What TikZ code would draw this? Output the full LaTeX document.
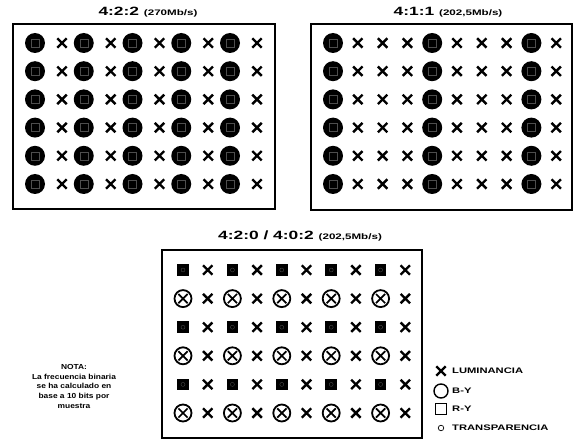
\documentclass[tikz,border=0pt]{standalone}
\usepackage{fontspec}
\setmainfont{Liberation Sans}
\usetikzlibrary{shapes.misc}
\newcommand\ttltext[2]{\scalebox{1.45}[1]{\fontsize{12}{12}\selectfont\bfseries #1 \fontsize{8}{8}\selectfont #2}}
\newcommand\legtext[1]{\scalebox{1.4}[1]{\fontsize{8}{8}\selectfont\bfseries #1}}
\begin{document}
\begin{tikzpicture}[x=1pt,y=-1pt,
 xmark/.style={cross out,draw,line width=2.4pt,minimum size=7pt,inner sep=0pt},
 innerx/.style={cross out,draw,line width=1.7pt,minimum size=7.5pt,inner sep=0pt},
 fulldot/.style={circle,fill=black,minimum size=20pt,inner sep=0pt},
 whitesq/.style={rectangle,draw=white,draw opacity=0.3,line width=0.35pt,minimum size=8pt,inner sep=0pt},
 whitedot/.style={circle,draw=white,draw opacity=0.3,line width=0.35pt,minimum size=4pt,inner sep=0pt},
 sqbox/.style={rectangle,fill=black,minimum size=11.5pt,inner sep=0pt},
 ringx/.style={circle,draw,line width=1.8pt,minimum size=17pt,inner sep=0pt},
 frame/.style={draw,line width=1.3pt},
 lbl/.style={inner sep=0pt,anchor=west}]
\fill[white] (0,0) rectangle (574,441);
\useasboundingbox (0,0) rectangle (574,441);
% titles
\node[inner sep=0pt] (t1) at (148,12) {\ttltext{4:2:2}{(270Mb/s)}};
\node[inner sep=0pt] (t2) at (448,12) {\ttltext{4:1:1}{(202,5Mb/s)}};
\node[inner sep=0pt] (t3) at (300,236) {\ttltext{4:2:0 / 4:0:2}{(202,5Mb/s)}};
% frames
\draw[frame] (13,24) rectangle (275,209);
\draw[frame] (311,24) rectangle (572,210);
\draw[frame] (162,250) rectangle (422,438);
% box 1 : 4:2:2
\foreach \r in {0,...,5}{
 \foreach \j in {0,...,4}{
  \node[fulldot] (a\r c\j) at ({35+48.75*\j},{43+28.2*\r}) {};
  \node[whitesq] (a\r s\j) at (a\r c\j) {};
  \node[xmark] (a\r x\j) at ({62+48.75*\j},{43+28.2*\r}) {};
 }
}
% box 2 : 4:1:1
\foreach \r in {0,...,5}{
 \foreach \k in {0,4,8}{
  \node[fulldot] (b\r c\k) at ({333+24.8*\k},{43+28.2*\r}) {};
  \node[whitesq] (b\r s\k) at (b\r c\k) {};
 }
 \foreach \k in {1,2,3,5,6,7,9}{
  \node[xmark] (b\r x\k) at ({333+24.8*\k},{43+28.2*\r}) {};
 }
}
% box 3 : 4:2:0 / 4:0:2
\foreach \r in {0,2,4}{
 \foreach \k in {0,2,4,6,8}{
  \node[sqbox] (c\r q\k) at ({183+24.7*\k},{270+28.6*\r}) {};
  \node[whitedot] (c\r d\k) at (c\r q\k) {};
 }
}
\foreach \r in {1,3,5}{
 \foreach \k in {0,2,4,6,8}{
  \node[ringx] (c\r o\k) at ({183+24.7*\k},{270+28.6*\r}) {};
  \node[innerx] (c\r i\k) at (c\r o\k) {};
 }
}
\foreach \r in {0,...,5}{
 \foreach \k in {1,3,5,7,9}{
  \node[xmark] (c\r x\k) at ({183+24.7*\k},{270+28.6*\r}) {};
 }
}
% note
\node[inner sep=0pt] (nota) at (74,387) {\scalebox{1.15}[1]{\fontsize{7.3}{9.6}\selectfont\bfseries
 \begin{tabular}{@{}c@{}}NOTA:\\La frecuencia binaria\\se ha calculado en\\base a 10 bits por\\muestra\end{tabular}}};
% legend
\node[xmark] (lx) at (441,371) {};
\node[circle,draw,line width=1.4pt,minimum size=14pt,inner sep=0pt] (lo) at (441,391) {};
\node[rectangle,draw,line width=1.4pt,minimum size=10.5pt,inner sep=0pt] (lq) at (441,409) {};
\node[circle,draw,line width=0.7pt,minimum size=5.5pt,inner sep=0pt] (ld) at (441,428) {};
\node[lbl] (llx) at (452,371) {\legtext{LUMINANCIA}};
\node[lbl] (llo) at (452,391) {\legtext{B-Y}};
\node[lbl] (llq) at (452,409) {\legtext{R-Y}};
\node[lbl] (lld) at (452,428) {\legtext{TRANSPARENCIA}};
\end{tikzpicture}
\end{document}
